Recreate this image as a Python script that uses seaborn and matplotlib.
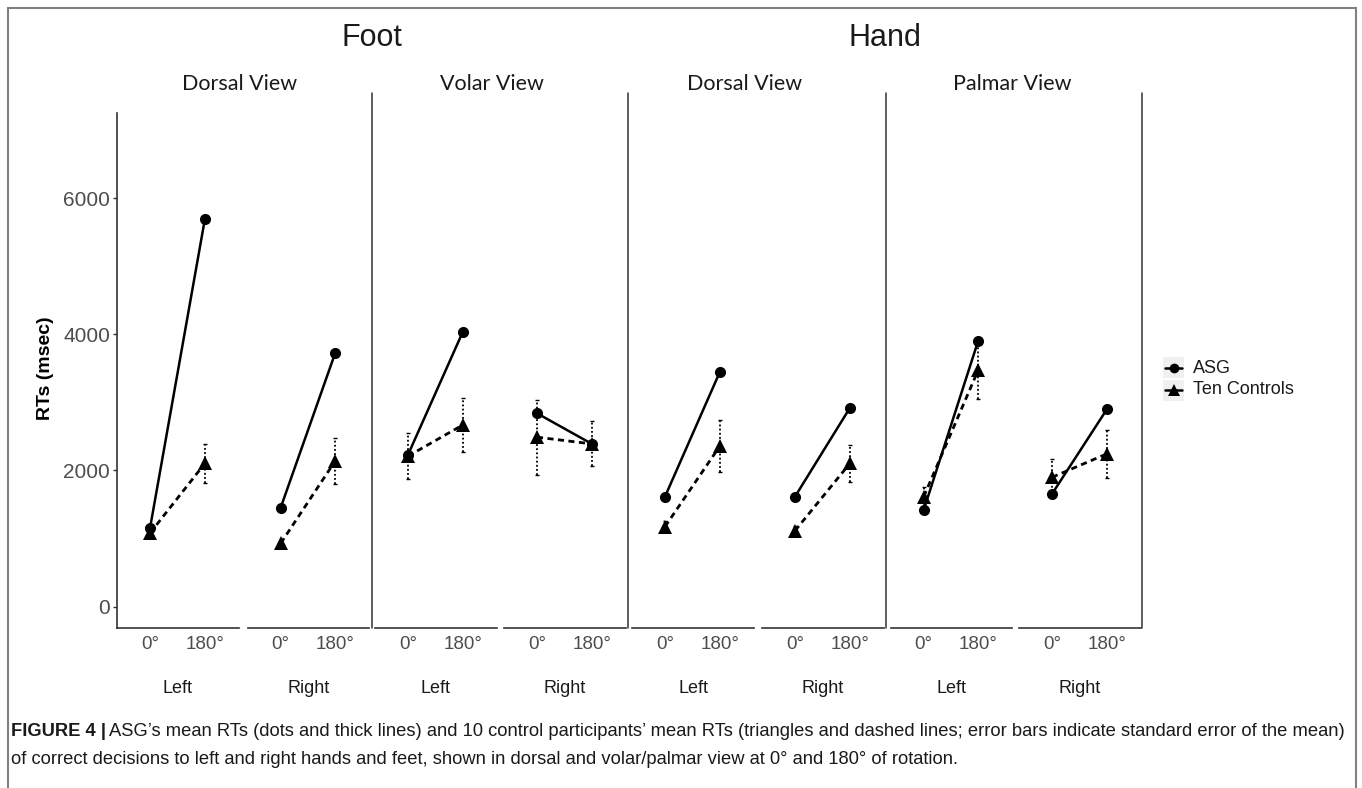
import numpy as np
import pandas as pd
import seaborn as sns
import matplotlib.pyplot as plt
from matplotlib.lines import Line2D
from matplotlib.patches import Rectangle

# values (msec)
limbs = ["Foot", "Hand"]
views = ["Dorsal View", "Volar View", "Dorsal View", "Palmar View"]
sides = ["Left", "Right", "Left", "Right", "Left", "Right", "Left", "Right"]
rotations = ["0°", "180°"]

asg_0 = [1150, 1455, 2230, 2840, 1615, 1615, 1420, 1655]
asg_180 = [5695, 3725, 4040, 2390, 3450, 2920, 3905, 2900]
ctrl_0 = [1080, 930, 2210, 2490, 1175, 1115, 1615, 1900]
ctrl_180 = [2105, 2140, 2670, 2390, 2360, 2105, 3475, 2245]
ctrl_se_0 = [70, 60, 340, 550, 80, 70, 140, 270]
ctrl_se_180 = [290, 340, 400, 330, 375, 270, 420, 355]

yticks = [0, 2000, 4000, 6000]

rows = []
for p in range(8):
    rows.append(dict(panel=p, pos=0, group="ASG", rt=asg_0[p], se=0))
    rows.append(dict(panel=p, pos=1, group="ASG", rt=asg_180[p], se=0))
    rows.append(dict(panel=p, pos=0, group="Ten Controls", rt=ctrl_0[p], se=ctrl_se_0[p]))
    rows.append(dict(panel=p, pos=1, group="Ten Controls", rt=ctrl_180[p], se=ctrl_se_180[p]))
df = pd.DataFrame(rows)

sns.set_style("white")
plt.rcParams["font.family"] = ["Liberation Sans", "DejaVu Sans"]

W, H = 1362, 788
fig = plt.figure(figsize=(W / 100, H / 100), dpi=100)


def fx(px):
    return px / W


def fy(py):
    return 1 - py / H


panel_x = [(117, 239), (248, 369), (375, 497), (504, 626),
           (632, 754), (762, 884), (891, 1012), (1019, 1141)]
top, bottom = 113, 628
grey_txt = "#4D4D4D"
axis_col = "#333333"

for p in range(8):
    x0, x1 = panel_x[p]
    ax = fig.add_axes([fx(x0), fy(bottom), (x1 - x0) / W, (bottom - top) / H])
    sub = df[df.panel == p]
    ctrl = sub[sub.group == "Ten Controls"]
    asg = sub[sub.group == "ASG"]

    # dotted standard-error bars for the controls
    eb = ax.errorbar(ctrl.pos, ctrl.rt, yerr=ctrl.se, fmt="none", ecolor="black",
                     elinewidth=1.3, capsize=1.5, capthick=1.0, zorder=1)
    eb[2][0].set_linestyle((0, (1, 1.3)))

    sns.lineplot(data=ctrl, x="pos", y="rt", color="black", marker="^",
                 markersize=10, markeredgewidth=0, linewidth=2.0, ax=ax, zorder=2)
    ax.lines[-1].set_dashes((2.2, 1.6))
    sns.lineplot(data=asg, x="pos", y="rt", color="black", marker="o",
                 markersize=8, markeredgewidth=0, linewidth=1.8, ax=ax, zorder=3)

    ax.set_xlim(-0.6, 1.62)
    ax.set_ylim(-313, 7250)
    ax.set_xticks([0, 1])
    ax.set_xticklabels(rotations, fontsize=13.5, color=grey_txt)
    ax.tick_params(axis="x", length=3, width=1, color=axis_col, pad=3)
    ax.set_xlabel(sides[p], fontsize=13, color="#1a1a1a", labelpad=19)
    ax.set_ylabel("")
    for s in ["top", "right"]:
        ax.spines[s].set_visible(False)
    ax.spines["bottom"].set_color(axis_col)
    ax.spines["bottom"].set_linewidth(1.2)
    if p == 0:
        ax.set_yticks(yticks)
        ax.set_yticklabels([str(v) for v in yticks], fontsize=15, color=grey_txt)
        ax.tick_params(axis="y", length=3, width=1, color=axis_col, pad=2, left=True)
        ax.spines["left"].set_color(axis_col)
        ax.spines["left"].set_linewidth(1.2)
    else:
        ax.set_yticks([])
        ax.spines["left"].set_visible(False)
    ax.patch.set_alpha(0)

# view separators
for xs in [372, 628, 886, 1142]:
    fig.add_artist(Line2D([fx(xs), fx(xs)], [fy(93), fy(628)], color=axis_col, lw=1.1))

# titles
fig.text(fx(372), fy(38), limbs[0], ha="center", va="center", fontsize=22, color="#1a1a1a")
fig.text(fx(885), fy(38), limbs[1], ha="center", va="center", fontsize=22, color="#1a1a1a")
for xc, v in zip([240, 492, 745, 1012], views):
    fig.text(fx(xc), fy(84), v, ha="center", va="center", fontsize=15.5,
             color="#1a1a1a", family=["Lato", "DejaVu Sans"])

fig.text(fx(45), fy(368), "RTs (msec)", rotation=90, ha="center", va="center",
         fontsize=14, fontweight="bold", color="black")

# legend
for yc, mk, ms, lab in [(368, "o", 7, "ASG"), (390, "^", 9, "Ten Controls")]:
    fig.add_artist(Rectangle((fx(1163), fy(yc + 10.5)), 21 / W, 21 / H,
                             facecolor="#F0F0F0", edgecolor="none"))
    fig.add_artist(Line2D([fx(1165), fx(1182)], [fy(yc), fy(yc)], color="black", lw=1.8))
    fig.add_artist(Line2D([fx(1173.5)], [fy(yc)], color="black", marker=mk,
                          markersize=ms, markeredgewidth=0))
    fig.text(fx(1193), fy(yc), lab, ha="left", va="center", fontsize=13, color="#1a1a1a")

# figure frame
fig.add_artist(Rectangle((fx(8), fy(800)), (1356 - 8) / W, 792 / H, fill=False,
                         edgecolor="#808080", lw=1.5, clip_on=False))

# caption
cap_size = 13.25
fig.canvas.draw()
r = fig.canvas.get_renderer()
t1 = fig.text(fx(11), fy(731), "FIGURE 4 |", ha="left", va="center", fontsize=cap_size,
              fontweight="bold", color="#1a1a1a")
bb = t1.get_window_extent(renderer=r)
fig.text(bb.x1 / W + 3 / W, fy(731),
         "ASG’s mean RTs (dots and thick lines) and 10 control participants’ mean RTs "
         "(triangles and dashed lines; error bars indicate standard error of the mean)",
         ha="left", va="center", fontsize=cap_size, color="#1a1a1a")
fig.text(fx(11), fy(760),
         "of correct decisions to left and right hands and feet, shown in dorsal and "
         "volar/palmar view at 0° and 180° of rotation.",
         ha="left", va="center", fontsize=cap_size, color="#1a1a1a")

fig.savefig("out.png", dpi=100)
